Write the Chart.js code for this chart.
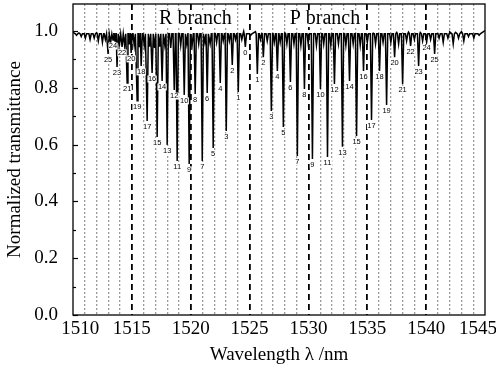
<!DOCTYPE html>
<html><head><meta charset="utf-8">
<script src="https://cdn.jsdelivr.net/npm/chart.js@4.4.1/dist/chart.umd.min.js"></script>
<style>html,body{margin:0;padding:0;background:#fff}</style>
</head><body>
<canvas id="c" width="496" height="366"></canvas>
<script>
// R branch lines (J, wavelength nm, minimum transmittance)
const rJ = [25,24,23,22,21,20,19,18,17,16,15,14,13,12,11,10,9,8,7,6,5,4,3,2,1,0];
const rLambda = [1512.98,1513.40,1513.74,1514.17,1514.60,1514.94,1515.45,1515.79,1516.30,1516.72,1517.15,1517.57,1518.00,1518.60,1518.85,1519.45,1519.87,1520.38,1520.98,1521.40,1521.91,1522.51,1523.02,1523.53,1524.04,1524.64];
const rT = [0.919,0.968,0.873,0.944,0.817,0.923,0.754,0.877,0.683,0.852,0.627,0.824,0.599,0.792,0.542,0.775,0.532,0.778,0.542,0.782,0.588,0.817,0.648,0.880,0.785,0.944];
// P branch lines
const pJ = [1,2,3,4,5,6,7,8,9,10,11,12,13,14,15,16,17,18,19,20,21,22,23,24,25];
const pLambda = [1525.66,1526.17,1526.85,1527.36,1527.87,1528.47,1529.06,1529.66,1530.34,1531.02,1531.62,1532.21,1532.89,1533.49,1534.09,1534.68,1535.36,1536.04,1536.64,1537.32,1538.00,1538.68,1539.36,1540.04,1540.72];
const pT = [0.849,0.908,0.718,0.859,0.662,0.820,0.560,0.796,0.549,0.796,0.556,0.813,0.592,0.824,0.630,0.859,0.687,0.859,0.739,0.908,0.813,0.947,0.877,0.961,0.919];
// weak (hot-band) features
const weakLambda = [1510.3,1510.7,1511.05,1511.45,1511.8,1512.15,1512.5,1512.75,1513.2,1513.57,1513.95,1514.38,1514.77,1515.2,1515.62,1516.05,1516.5,1516.93,1517.36,1517.8,1518.3,1519.15,1519.66,1520.12,1520.68,1521.2,1521.65,1522.2,1522.76,1523.28,1523.8,1524.34,1525.1,1525.92,1526.5,1527.1,1527.6,1528.17,1528.77,1529.36,1529.98,1530.68,1531.3,1531.9,1532.55,1533.18,1533.8,1534.4,1535.0,1535.7,1536.34,1537.0,1537.66,1538.34,1539.0,1539.7,1540.38,1541.1,1541.45,1541.85,1542.3,1542.75,1543.2,1543.6,1544.05,1544.5];
const weakT = [0.985,0.98,0.975,0.97,0.975,0.965,0.96,0.97,0.96,0.965,0.955,0.95,0.955,0.95,0.945,0.95,0.945,0.94,0.945,0.95,0.94,0.95,0.955,0.95,0.955,0.96,0.955,0.96,0.965,0.965,0.97,0.97,0.985,0.97,0.965,0.96,0.96,0.955,0.955,0.95,0.955,0.95,0.955,0.95,0.955,0.95,0.955,0.95,0.96,0.955,0.96,0.96,0.955,0.965,0.97,0.965,0.97,0.975,0.96,0.975,0.955,0.975,0.965,0.98,0.975,0.985];
// baseline readings
const baseLambda = [1510,1510.5,1511,1511.5,1512,1512.5,1513,1513.5,1514,1514.5,1515,1515.5,1516,1516.5,1517,1517.5,1518,1518.5,1519,1519.5,1520,1520.5,1521,1521.5,1522,1522.5,1523,1523.5,1524,1524.5,1525,1525.5,1526,1526.5,1527,1527.5,1528,1528.5,1529,1529.5,1530,1530.5,1531,1531.5,1532,1532.5,1533,1533.5,1534,1534.5,1535,1535.5,1536,1536.5,1537,1537.5,1538,1538.5,1539,1539.5,1540,1540.5,1541,1541.5,1542,1542.5,1543,1543.5,1544,1544.5,1545];
const baseT = [0.995,0.993,0.996,0.99,0.994,0.991,0.993,0.99,0.992,0.989,0.993,0.99,0.992,0.99,0.993,0.991,0.99,0.993,0.99,0.992,0.994,0.99,0.993,0.995,0.992,0.996,0.994,0.997,0.996,0.999,1.003,0.998,0.995,0.994,0.992,0.995,0.993,0.99,0.992,0.99,0.993,0.991,0.99,0.992,0.99,0.993,0.99,0.992,0.99,0.993,0.995,0.992,0.994,0.99,0.993,0.995,0.992,0.996,0.993,0.995,0.997,0.994,0.996,0.993,0.997,0.995,0.998,0.996,0.999,1.0,1.001];
const xTicks = [1510,1515,1520,1525,1530,1535,1540,1545];
const yTicks = [0.0,0.2,0.4,0.6,0.8,1.0];

// build spectrum points
const HW = 0.1, EDGE = 0.99;
const lines = [];
rLambda.forEach((l,i)=>lines.push([l,rT[i]]));
pLambda.forEach((l,i)=>lines.push([l,pT[i]]));
weakLambda.forEach((l,i)=>lines.push([l,weakT[i]]));
const pts = [];
lines.forEach(([l,t])=>{pts.push({x:l-HW,y:EDGE});pts.push({x:l,y:t});pts.push({x:l+HW,y:EDGE});});
baseLambda.forEach((l,i)=>{ if(!lines.some(([c])=>Math.abs(c-l)<HW+0.03)) pts.push({x:l,y:baseT[i]}); });
pts.sort((a,b)=>a.x-b.x);

const SERIF = '"Liberation Serif","DejaVu Serif",serif';
const near = (v,arr)=>arr.some(a=>Math.abs(a-v)<1e-6);

const decor = {
  id:'decor',
  afterDatasetsDraw(chart){
    const {ctx, chartArea:a, scales:{x,y}} = chart;
    ctx.save();
    // inward y ticks
    ctx.strokeStyle='#000'; ctx.lineWidth=1.2;
    y.ticks.forEach(t=>{
      if(t.value>1.0001) return;
      const py=Math.round(y.getPixelForValue(t.value))+0.5;
      const major = near(Math.round(t.value*10)/10, yTicks);
      ctx.beginPath(); ctx.moveTo(a.left,py); ctx.lineTo(a.left+(major?5:3),py); ctx.stroke();
    });
    // line labels
    ctx.font='7.5px "Liberation Sans","DejaVu Sans",sans-serif';
    ctx.textAlign='center'; ctx.textBaseline='middle';
    const lab=(J,l,t)=>{
      const px=x.getPixelForValue(l), py=y.getPixelForValue(t)+6;
      const s=String(J), w=ctx.measureText(s).width;
      ctx.fillStyle='#fff'; ctx.fillRect(px-w/2-0.5,py-3.5,w+1,7);
      ctx.fillStyle='#000'; ctx.fillText(s,px,py);
    };
    rJ.forEach((J,i)=>lab(J,rLambda[i],rT[i]));
    pJ.forEach((J,i)=>lab(J,pLambda[i],pT[i]));
    // branch titles
    ctx.font='20px '+SERIF;
    const br=(s,l)=>{
      const px=x.getPixelForValue(l), py=a.top+15;
      const w=ctx.measureText(s).width;
      ctx.fillStyle='#fff'; ctx.fillRect(px-w/2-1,py-9,w+2,17);
      ctx.fillStyle='#000'; ctx.fillText(s,px,py);
    };
    br('R branch',1520.4); br('P branch',1531.4);
    // frame
    ctx.strokeStyle='#000'; ctx.lineWidth=1.3;
    ctx.strokeRect(a.left,a.top,a.right-a.left,a.bottom-a.top);
    ctx.restore();
  }
};

new Chart(document.getElementById('c'),{
  type:'scatter',
  data:{datasets:[{data:pts,showLine:true,borderColor:'#000',borderWidth:1.5,pointRadius:0,tension:0}]},
  options:{
    responsive:false,animation:false,
    layout:{padding:{top:4,right:11,left:0,bottom:0}},
    plugins:{legend:{display:false},tooltip:{enabled:false}},
    scales:{
      x:{type:'linear',min:1510,max:1545,position:'bottom',
        afterBuildTicks:s=>{s.ticks=xTicks.map(v=>({value:v}));},
        ticks:{font:{family:SERIF,size:19},color:'#000',padding:3,maxRotation:0,autoSkip:false,
          callback:v=>v===1510?'   '+v:(v===1545?v+'   ':String(v))},
        grid:{drawTicks:false,lineWidth:1.8,color:c=>(c.tick&&(c.tick.value===1510||c.tick.value===1545))?'rgba(0,0,0,0)':'#000'},
        border:{display:false,dash:[6,4]},
        title:{display:true,text:'Wavelength \u03bb /nm',font:{family:SERIF,size:19},color:'#000',padding:{top:-4,bottom:0}},
        afterFit:s=>{s.height=51;s.paddingLeft=0;s.paddingRight=11;}
      },
      xMinor:{type:'linear',min:1510,max:1545,position:'bottom',
        ticks:{display:false,stepSize:1},
        grid:{drawTicks:false,lineWidth:1.3,color:c=>(c.tick&&Math.round(c.tick.value)%5===0)?'rgba(0,0,0,0)':'#9a9a9a'},
        border:{display:false,dash:[2,2]},
        afterFit:s=>{s.height=0;s.paddingLeft=0;s.paddingRight=11;}
      },
      y:{type:'linear',min:0,max:1.095,
        ticks:{stepSize:0.1,font:{family:SERIF,size:19},color:'#000',padding:7,
          callback:v=>near(Math.round(v*10)/10,yTicks)&&Math.abs(v-Math.round(v*10)/10)<1e-6?v.toFixed(1):''},
        grid:{display:false},
        border:{display:false},
        title:{display:true,text:'Normalized transmittance',font:{family:SERIF,size:19},color:'#000',padding:{top:4,bottom:0}},
        afterFit:s=>{s.width=73;s.paddingTop=0;s.paddingBottom=0;}
      }
    }
  },
  plugins:[decor]
});
</script>
</body></html>
